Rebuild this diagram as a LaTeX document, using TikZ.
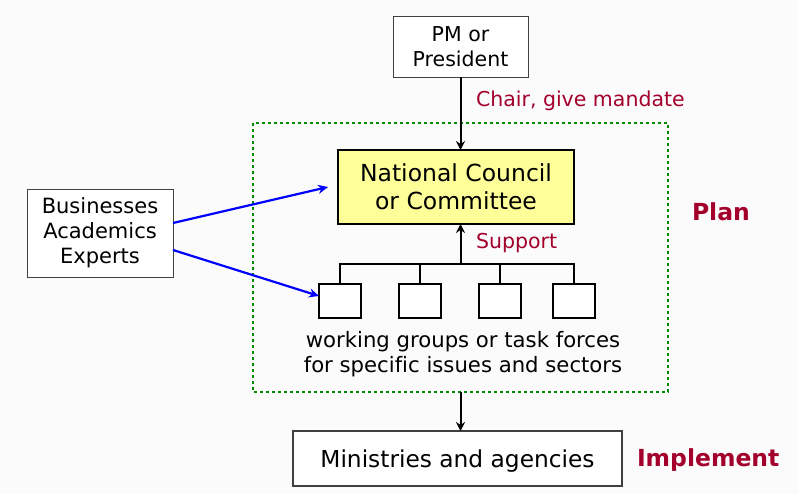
\documentclass[tikz,border=0pt]{standalone}
\usepackage{fontspec}
\setmainfont{DejaVu Sans}[Ligatures=NoCommon]
\usetikzlibrary{arrows.meta}
\definecolor{crimson}{HTML}{A3002B}
\definecolor{paleyellow}{HTML}{FFFF99}
\definecolor{dotgreen}{HTML}{008A00}
\definecolor{bluearrow}{HTML}{0000FF}
\begin{document}
\begin{tikzpicture}[x=1pt,y=-1pt,
  every node/.style={inner sep=0pt, outer sep=0pt},
  plainbox/.style={draw=black!75, line width=0.9pt, fill=white, align=center, font=\fontsize{20.5}{25}\selectfont},
  councilbox/.style={draw=black, line width=1.8pt, fill=paleyellow, align=center, font=\fontsize{23.5}{28}\selectfont},
  groupbox/.style={draw=black, line width=2.2pt, fill=white, minimum width=42pt, minimum height=34pt},
  redlabel/.style={text=crimson, anchor=west, font=\fontsize{20.5}{24}\selectfont},
  boldlabel/.style={text=crimson, anchor=west, font=\fontsize{23.5}{28}\selectfont\bfseries},
  blackarrow/.style={draw=black, line width=2pt, -{Stealth[length=9pt,width=9pt]}},
  bluearr/.style={draw=bluearrow, line width=2.2pt, -{Stealth[length=10pt,width=9pt]}},
  tree/.style={draw=black, line width=2.4pt},
  dotframe/.style={draw=dotgreen, line width=2.8pt, dash pattern=on 3pt off 3pt}
]
\useasboundingbox (0,0) rectangle (798,494);
\fill[black!1.5] (0,0) rectangle (798,494);

% plan frame
\draw[dotframe] (253,123) rectangle (668,392);

% boxes
\node[plainbox, minimum width=135pt, minimum height=61pt] (pm) at (460.5,46.5) {PM or\\President};
\node[councilbox, minimum width=236pt, minimum height=74pt] (nc) at (456,187) {National Council\\or Committee};
\node[plainbox, font=\fontsize{21}{25}\selectfont, minimum width=146pt, minimum height=88pt] (bae) at (100,233) {Businesses\\Academics\\Experts};
\node[plainbox, line width=1.4pt, minimum width=329pt, minimum height=55pt] (min) at (457.5,458.5) {};
\node[font=\fontsize{23.3}{28}\selectfont] (mintext) at (457.5,461) {Ministries and agencies};

% tree connecting the groups
\coordinate (bar) at (460.5,264);
\coordinate (c1) at (340,301);
\coordinate (c2) at (420,301);
\coordinate (c3) at (500,301);
\coordinate (c4) at (574,301);
\draw[tree] (c1) |- (c4 |- bar) -- (c4);
\draw[tree] (c2) -- (c2 |- bar);
\draw[tree] (c3) -- (c3 |- bar);

% working groups
\node[groupbox] (g1) at (c1) {};
\node[groupbox] (g2) at (c2) {};
\node[groupbox] (g3) at (c3) {};
\node[groupbox] (g4) at (c4) {};
\node[align=center, font=\fontsize{21.2}{25}\selectfont] (wg) at (463,354) {working groups or task forces\\for specific issues and sectors};

\draw[blackarrow] (bar) -- (nc.south -| bar);

% labels
\node[redlabel] (chair) at (476,101) {Chair, give mandate};
\node[redlabel] (support) at (476,243) {Support};
\node[boldlabel] (plan) at (692,212) {Plan};
\node[boldlabel] (impl) at (637,460) {Implement};

% arrows
\draw[blackarrow] (pm.south) -- (pm.south |- nc.north);
\coordinate (framebottom) at (460.5,392);
\draw[blackarrow] (framebottom) -- (min.north -| framebottom);
\draw[bluearr] (bae.east |- 0,223) -- (328,187);
\draw[bluearr] (bae.east |- 0,250) -- (g1.west |- 0,296);
\end{tikzpicture}
\end{document}
